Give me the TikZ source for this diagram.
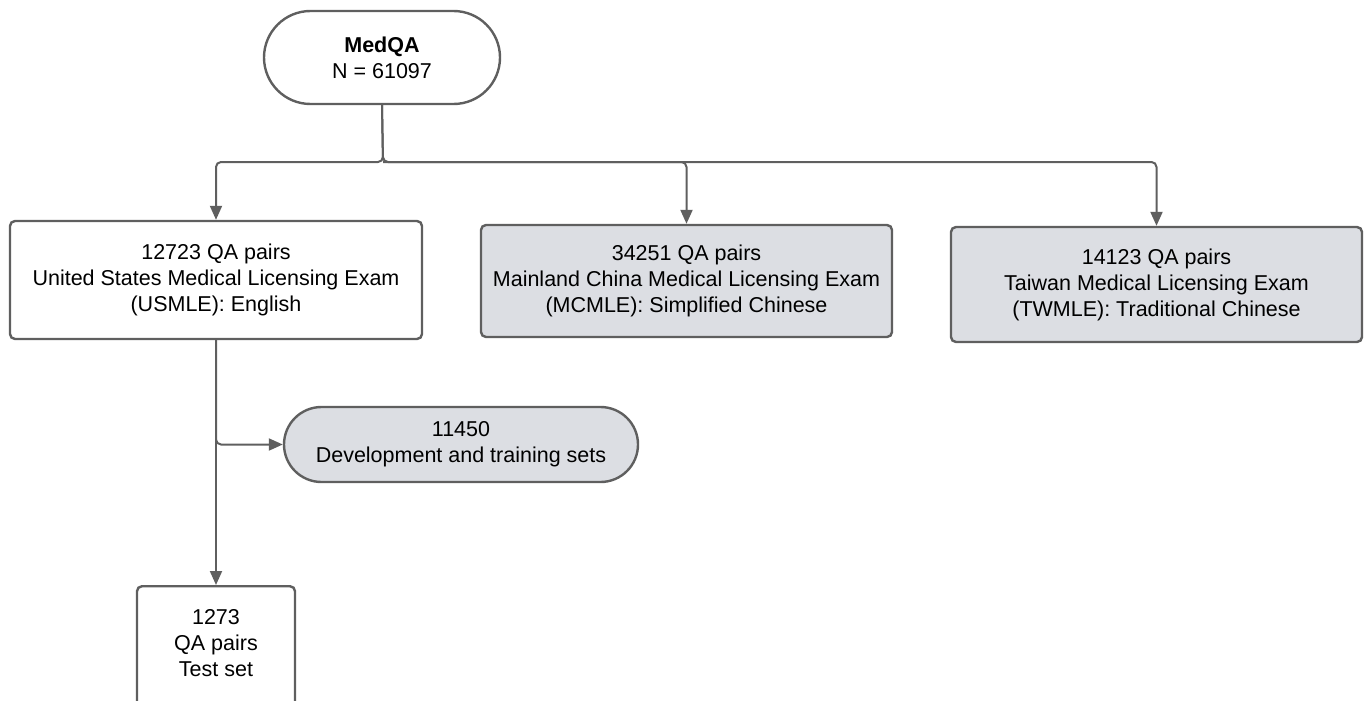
\documentclass[tikz,border=0pt]{standalone}
\usepackage{fontspec}
\setmainfont{Liberation Sans}
\usetikzlibrary{arrows.meta,shapes.misc}
\definecolor{linec}{HTML}{5F5F5F}
\definecolor{boxfill}{HTML}{DCDEE3}
\begin{document}
\begin{tikzpicture}[x=1pt,y=-1pt,
  every node/.style={font=\fontsize{21.5}{26}\selectfont, align=center, text=black},
  box/.style={draw=linec, line width=2.4pt, rounded corners=5pt, inner sep=0pt},
  pill/.style={draw=linec, line width=2.4pt, rounded rectangle, inner sep=0pt},
  graybox/.style={fill=boxfill},
  conn/.style={draw=linec, line width=2pt, rounded corners=5pt, -{Triangle[length=14pt,width=12pt]}},
  plainconn/.style={draw=linec, line width=2pt, rounded corners=5pt}
]
\useasboundingbox (0,0) rectangle (1368,701);
\begin{scope}
\clip (0,0) rectangle (1368,701);
\node[pill, minimum width=236pt, minimum height=93pt] (medqa) at (382,57.5) {\textbf{MedQA}\\N = 61097};
\node[box, minimum width=412pt, minimum height=118pt] (usmle) at (216,280) {12723 QA pairs\\United States Medical Licensing Exam\\(USMLE): English};
\node[box, graybox, minimum width=411pt, minimum height=112pt] (mcmle) at (686.5,281) {34251 QA pairs\\Mainland China Medical Licensing Exam\\(MCMLE): Simplified Chinese};
\node[box, graybox, minimum width=411pt, minimum height=115pt] (twmle) at (1156.5,284.5) {14123 QA pairs\\Taiwan Medical Licensing Exam\\(TWMLE): Traditional Chinese};
\node[pill, graybox, minimum width=354pt, minimum height=75pt] (dev) at (461,444.5) {11450\\Development and training sets};
\node[box, minimum width=158pt, minimum height=140pt, anchor=north] (test) at (216,585) {};
\node (testtxt) at (216,643) {1273\\QA pairs\\Test set};
\coordinate (j) at (383,162);
\draw[conn] (medqa.south) -- (j) -| (usmle.north);
\draw[conn] (medqa.south) -- (j) -| (mcmle.north);
\draw[conn] (j) -| (twmle.north);
\draw[conn] (usmle.south) |- (dev.west);
\draw[conn] (usmle.south) -- (test.north);
\end{scope}
\end{tikzpicture}
\end{document}
